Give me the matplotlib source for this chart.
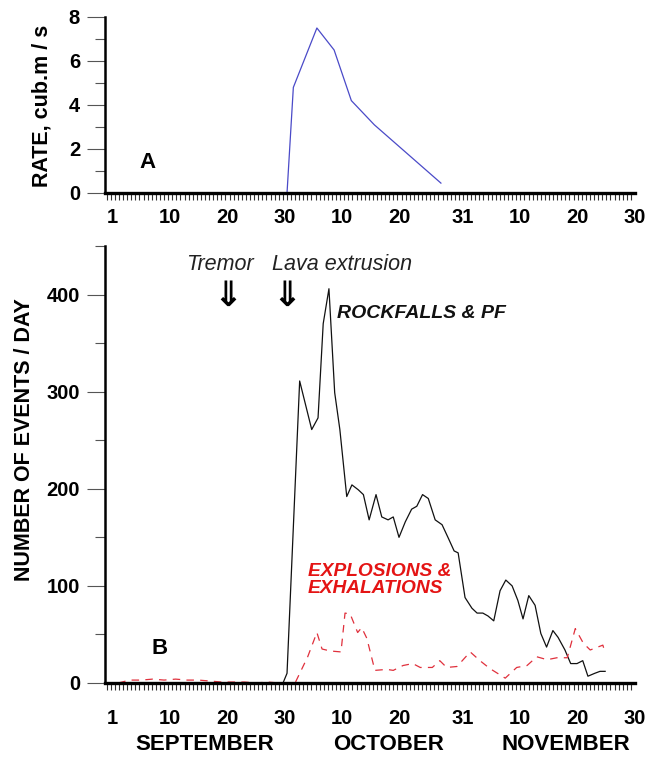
import numpy as np
import matplotlib
matplotlib.use("Agg")
import matplotlib.pyplot as plt
from matplotlib.ticker import FixedLocator, MultipleLocator

# ---------------- data ----------------
# day index: Sep 1 = 1 ... Sep 30 = 30, Oct 1 = 31 ... Oct 31 = 61, Nov 1 = 62 ... Nov 30 = 91
tick_days = [0, 10, 20, 30, 40, 50, 61, 71, 81, 91]
tick_labels = ["1", "10", "20", "30", "10", "20", "31", "10", "20", "30"]
months = ["SEPTEMBER", "OCTOBER", "NOVEMBER"]

rate_days = [30.4, 31.5, 35.6, 38.6, 41.6, 45.6, 57.2]
rate_vals = [0.0, 4.8, 7.5, 6.5, 4.2, 3.1, 0.45]

rock_days = [1, 29.7, 30.4, 32.6, 34.7, 35.8, 36.7, 37.7, 38.7, 39.6, 40.8, 41.7,
             42.8, 43.7, 44.7, 45.9, 46.9, 48.0, 48.9, 49.9, 51.0, 52.1, 53.0,
             54.0, 55.0, 56.2, 57.4, 58.5, 59.5, 60.2, 61.4, 62.6, 63.5, 64.5,
             65.4, 66.4, 67.5, 68.5, 69.6, 70.6, 71.5, 72.5, 73.6, 74.6, 75.6,
             76.7, 77.6, 78.8, 79.8, 80.9, 81.9, 82.8, 84.0, 84.9, 85.8]
rock_vals = [0, 0, 10, 311, 261, 273, 370, 406, 299, 261, 192, 204,
             199, 194, 168, 194, 171, 168, 171, 150, 166, 179, 182,
             194, 190, 168, 163, 149, 136, 134, 88, 77, 72, 72,
             69, 64, 95, 106, 100, 85, 66, 90, 80, 51, 37,
             54, 47, 34, 20, 20, 23, 7, 10, 12, 12]

expl_days = [1, 3, 5, 7, 9, 11, 13, 15, 17, 19, 21, 23, 25, 27, 29, 31.8,
             34.0, 35.6, 36.5, 37.9, 39.8, 40.5, 41.4, 42.7, 43.4, 44.3, 45.7,
             47.8, 48.9, 50.6, 52.3, 53.6, 55.7, 57.0, 58.2, 60.0, 62.3, 64.0,
             65.7, 68.4, 70.4, 72.2, 73.9, 75.7, 77.4, 79.2, 80.6, 82.0, 83.2,
             85.4, 85.8]
expl_vals = [0, 3, 3, 4, 3, 4, 3, 3, 2, 1, 1, 1, 0, 1, 0, 0,
             27, 52, 35, 33, 32, 72, 71, 52, 57, 46, 13,
             14, 13, 18, 20, 16, 16, 23, 16, 17, 32, 23,
             15, 5, 16, 18, 27, 24, 26, 26, 56, 41, 34,
             39, 31]

# ---------------- figure ----------------
W, H = 661, 757
fig = plt.figure(figsize=(W / 100, H / 100), dpi=100)
FONT = "Liberation Sans"

def fx(px):
    return px / W

def fy(py):
    return 1 - py / H

xmin, xmax = -1.3, 91.0

ax1 = fig.add_axes([fx(105), fy(193), fx(635) - fx(105), fy(17) - fy(193)])
ax2 = fig.add_axes([fx(105), fy(683), fx(635) - fx(105), fy(246) - fy(683)])

for ax in (ax1, ax2):
    ax.set_xlim(xmin, xmax)
    ax.spines["top"].set_visible(False)
    ax.spines["right"].set_visible(False)
    ax.spines["bottom"].set_linewidth(2.4)
    ax.spines["left"].set_linewidth(1.8)
    ax.xaxis.set_major_locator(FixedLocator(tick_days))
    ax.set_xticklabels(tick_labels, fontfamily=FONT, fontweight="bold", fontsize=14.5)
    ax.xaxis.set_minor_locator(FixedLocator(np.linspace(xmin + 0.3, xmax, 130)))
    ax.tick_params(axis="x", which="major", length=0)
    ax.tick_params(axis="x", which="minor", length=5, width=0.8, direction="out", color="#333333")
    ax.tick_params(axis="y", which="major", length=13, width=0.8, color="#555555")
    ax.tick_params(axis="y", which="minor", length=7, width=0.8, color="#555555")
    ax.set_facecolor("none")

# ---- panel A ----
ax1.plot(rate_days, rate_vals, color="#4a4ac8", lw=0.9)
ax1.set_ylim(0, 8)
ax1.set_yticks([0, 2, 4, 6, 8])
ax1.yaxis.set_minor_locator(MultipleLocator(1))
ax1.set_yticklabels(["0", "2", "4", "6", "8"], fontfamily=FONT, fontweight="bold", fontsize=14.5)
ax1.tick_params(axis="x", which="major", pad=11)
ax1.tick_params(axis="y", which="major", pad=5)
ax1.text(fx(147), fy(163), "A", transform=fig.transFigure, ha="center", va="center",
         fontfamily=FONT, fontweight="bold", fontsize=16)

# ---- panel B ----
ax2.plot(rock_days, rock_vals, color="#111111", lw=0.9)
ax2.plot(expl_days, expl_vals, color="#e0303c", lw=0.9, dashes=(6, 5))
ax2.set_ylim(0, 450)
ax2.set_yticks([0, 100, 200, 300, 400])
ax2.yaxis.set_minor_locator(MultipleLocator(50))
ax2.set_yticklabels(["0", "100", "200", "300", "400"], fontfamily=FONT, fontweight="bold", fontsize=14.5)
ax2.tick_params(axis="x", which="major", pad=19)
ax2.tick_params(axis="y", which="major", pad=5)

fig.text(fx(160), fy(648), "B", ha="center", va="center",
         fontfamily=FONT, fontweight="bold", fontsize=16)

# y labels
fig.text(fx(42), fy(106), "RATE, cub.m / s", rotation=90, ha="center", va="center",
         fontfamily=FONT, fontweight="bold", fontsize=15.5)
fig.text(fx(25), fy(440), "NUMBER OF EVENTS / DAY", rotation=90, ha="center", va="center",
         fontfamily=FONT, fontweight="bold", fontsize=15.5)

# month labels
for name, cx in zip(months, [205, 389, 566]):
    fig.text(fx(cx), fy(744), name, ha="center", va="center",
             fontfamily=FONT, fontweight="bold", fontsize=16)

# annotations
fig.text(fx(220), fy(265), "Tremor", ha="center", va="center", fontfamily=FONT,
         fontstyle="italic", fontsize=15.5, color="#222222")
fig.text(fx(342), fy(265), "Lava extrusion", ha="center", va="center", fontfamily=FONT,
         fontstyle="italic", fontsize=15.5, color="#222222")
for ax_px in (228, 287):
    fig.text(fx(ax_px), fy(296), "\u21D3", ha="center", va="center",
             fontfamily="DejaVu Sans", fontweight="bold", fontsize=25, color="black")

fig.text(fx(337), fy(313), "ROCKFALLS & PF", ha="left", va="center", fontfamily=FONT,
         fontweight="bold", fontstyle="italic", fontsize=14, color="#111111")
fig.text(fx(308), fy(580), "EXPLOSIONS &\nEXHALATIONS", ha="left", va="center", fontfamily=FONT,
         fontweight="bold", fontstyle="italic", fontsize=13.8, color="#e41414",
         linespacing=1.05)

fig.savefig("out.png", dpi=100)
